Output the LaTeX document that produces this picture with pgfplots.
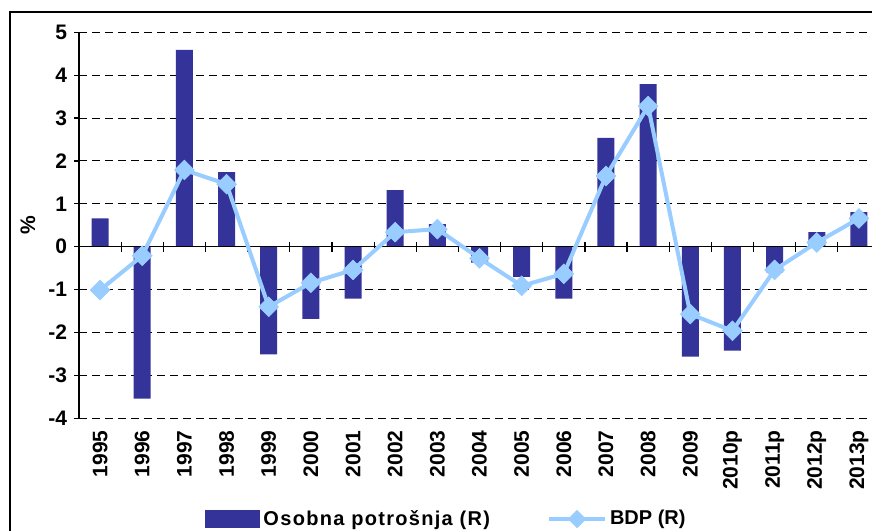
\documentclass[border=0pt]{standalone}
\usepackage{pgfplots}
\pgfplotsset{compat=1.18}
\usepackage{fontspec}
\setmainfont{Liberation Sans}
\newfontfamily\spacedfont[LetterSpace=6.5]{Liberation Sans}
\definecolor{barblue}{HTML}{333399}
\definecolor{lineblue}{HTML}{99CCFF}
\begin{document}
\begin{tikzpicture}[x=1pt,y=1pt]
\useasboundingbox (0,0) rectangle (436,265);
\clip (0,0) rectangle (436,265);
\draw[line width=0.7pt] (5,-10) -- (5,259) -- (450,259);
\begin{axis}[
  at={(39.5pt,55.85pt)}, anchor=south west,
  scale only axis, width=396.5pt, height=193pt,
  xmin=-0.5, xmax=18.31, ymin=-4, ymax=5,
  axis lines*=left,
  x axis line style={draw=none},
  y axis line style={black, line width=0.6pt},
  xtick={0,...,18},
  xticklabels={1995,1996,1997,1998,1999,2000,2001,2002,2003,2004,2005,2006,2007,2008,2009,2010p,2011p,2012p,2013p},
  xtick style={draw=none},
  xticklabel style={rotate=90, anchor=east, font=\bfseries\fontsize{10.5}{12}\selectfont},
  ytick={-4,...,5},
  yticklabels={-4,-3,-2,-1,0,1,2,3,4,5},
  yticklabel style={font=\bfseries\fontsize{10.5}{12}\selectfont},
  ytick style={black, line width=0.6pt},
  tick align=outside, major tick length=2.5pt,
  ymajorgrids,
  major grid style={black, line width=0.5pt, dash pattern=on 4pt off 2.5pt},
  ylabel={\%},
  ylabel style={at={(axis description cs:-0.0643,0.5)}, anchor=center, font=\bfseries\fontsize{10.5}{12}\selectfont},
  legend columns=2,
  legend style={at={(axis description cs:0.159,-0.261)}, anchor=west, draw=none, fill=none,
    inner sep=0pt, font=\bfseries\fontsize{10}{12}\selectfont,
    nodes={inner sep=1.5pt},
    /tikz/every even column/.append style={column sep=27pt}},
]
\addplot[ybar, bar width=8.5pt, fill=barblue, draw=none,
  legend image code/.code={\fill[barblue] (0pt,-4.5pt) rectangle (27.5pt,4.5pt);}]
  coordinates {
  (0,0.66) (1,-3.54) (2,4.59) (3,1.74) (4,-2.51) (5,-1.68) (6,-1.21) (7,1.32)
  (8,0.53) (9,-0.37) (10,-0.70) (11,-1.21) (12,2.54) (13,3.79) (14,-2.56)
  (15,-2.42) (16,-0.60) (17,0.34) (18,0.81)};
\addlegendentry{{\spacedfont\bfseries Osobna potrošnja (R)}}
\draw[black, line width=0.6pt] (axis cs:-0.5,0) -- (axis cs:18.31,0);
\pgfplotsinvokeforeach{0,...,17}{
  \draw[black, line width=0.6pt] ([yshift=-2.5pt]axis cs:#1.5,0) -- ([yshift=2.5pt]axis cs:#1.5,0);
}
\addplot[lineblue, line width=2pt, mark=square*, mark size=3.5pt,
  mark options={rotate=45, solid, fill=lineblue, draw=lineblue, line width=0.3pt},
  legend image code/.code={\draw[lineblue, line width=2pt] (0pt,0pt) -- (28pt,0pt);
    \fill[lineblue] (14pt,-3.2pt) -- (17.2pt,0pt) -- (14pt,3.2pt) -- (10.8pt,0pt) -- cycle;}]
  coordinates {
  (0,-1.01) (1,-0.21) (2,1.79) (3,1.46) (4,-1.40) (5,-0.84) (6,-0.54) (7,0.34)
  (8,0.41) (9,-0.27) (10,-0.91) (11,-0.63) (12,1.65) (13,3.28) (14,-1.57)
  (15,-1.96) (16,-0.54) (17,0.10) (18,0.66)};
\addlegendentry{BDP (R)}
\end{axis}
\end{tikzpicture}
\end{document}
